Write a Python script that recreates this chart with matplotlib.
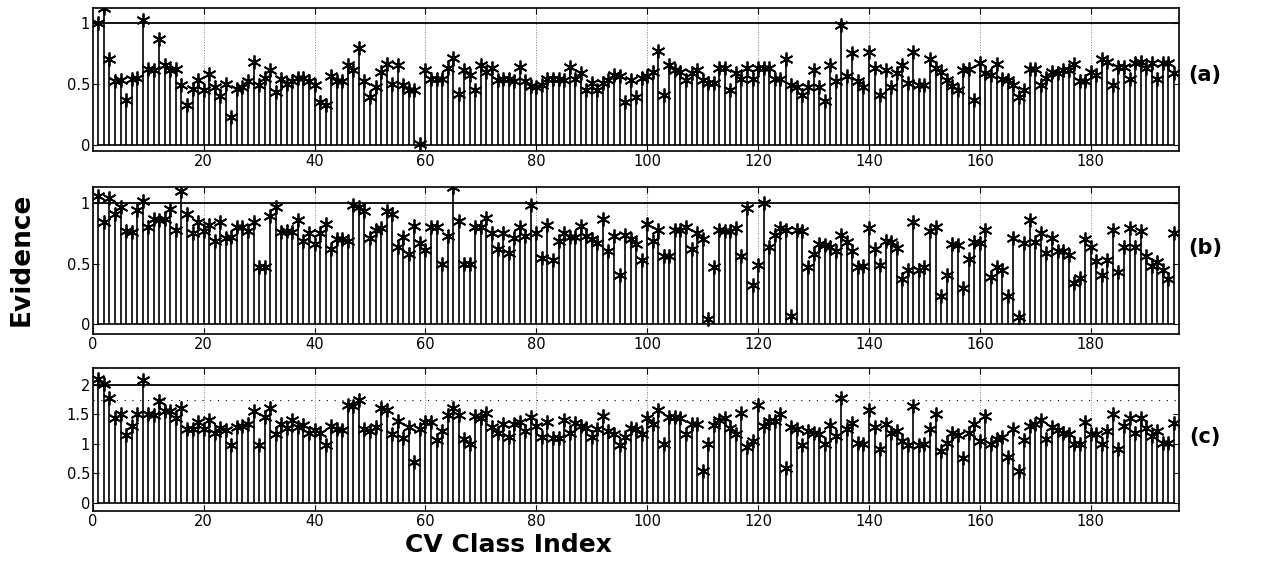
import numpy as np
import matplotlib.pyplot as plt

plt.rcParams['font.family'] = ['DejaVu Sans']

# evidence values per CV class, 195 classes per panel
ev_a = [1.0, 1.12, 0.70, 0.52, 0.53, 0.37, 0.54, 0.55, 1.02, 0.62,
        0.61, 0.87, 0.65, 0.61, 0.62, 0.49, 0.33, 0.46, 0.53, 0.45,
        0.58, 0.47, 0.40, 0.50, 0.23, 0.46, 0.47, 0.52, 0.68, 0.49,
        0.55, 0.61, 0.43, 0.54, 0.50, 0.52, 0.55, 0.55, 0.52, 0.49,
        0.35, 0.33, 0.56, 0.52, 0.52, 0.65, 0.61, 0.79,
        0.52, 0.39, 0.47, 0.60, 0.66, 0.50, 0.65, 0.49, 0.45, 0.45,
        0.01, 0.61, 0.54, 0.54, 0.54, 0.63, 0.71, 0.42, 0.61, 0.57,
        0.45, 0.65, 0.60, 0.63, 0.53, 0.54, 0.54, 0.52, 0.64, 0.52,
        0.48, 0.47, 0.49, 0.54, 0.54, 0.54, 0.53, 0.64, 0.54, 0.59,
        0.45, 0.51, 0.45, 0.51, 0.53, 0.57, 0.56, 0.35, 0.53, 0.39,
        0.55, 0.56,
        0.60, 0.77, 0.41, 0.65, 0.61, 0.60, 0.53, 0.59, 0.61, 0.53,
        0.51, 0.51, 0.63, 0.63, 0.45, 0.59, 0.54, 0.63, 0.54, 0.63,
        0.63, 0.63, 0.54, 0.54, 0.70, 0.49, 0.47, 0.41, 0.47, 0.61,
        0.47, 0.36, 0.65, 0.52, 0.98, 0.56, 0.75, 0.52, 0.47, 0.76,
        0.63, 0.41, 0.61, 0.47, 0.59, 0.65, 0.51, 0.76, 0.49, 0.49,
        0.70,
        0.63, 0.60, 0.53, 0.48, 0.45, 0.61, 0.62, 0.37, 0.67, 0.59,
        0.57, 0.66, 0.54, 0.53, 0.49, 0.39, 0.45, 0.62, 0.62, 0.49,
        0.55, 0.60, 0.59, 0.61, 0.61, 0.66, 0.52, 0.52, 0.60, 0.57,
        0.70, 0.68, 0.49, 0.64, 0.64, 0.54, 0.67, 0.68, 0.63, 0.67,
        0.54, 0.67, 0.67, 0.59]

ev_b = [1.06, 0.84, 1.04, 0.91, 0.97, 0.77, 0.76, 0.94, 1.02, 0.80,
        0.87, 0.86, 0.87, 0.95, 0.78, 1.10, 0.91, 0.75, 0.84, 0.77,
        0.82, 0.69, 0.84, 0.71, 0.72, 0.80, 0.80, 0.77, 0.84, 0.47,
        0.47, 0.89, 0.97, 0.76, 0.77, 0.76, 0.86, 0.69, 0.75, 0.66,
        0.75, 0.83, 0.62, 0.70, 0.70, 0.69, 0.98, 0.97,
        0.93, 0.71, 0.78, 0.79, 0.93, 0.91, 0.64, 0.72, 0.58, 0.81,
        0.67, 0.61, 0.80, 0.80, 0.50, 0.73, 1.13, 0.85, 0.50, 0.50,
        0.80, 0.80, 0.88, 0.75, 0.62, 0.75, 0.59, 0.71, 0.80, 0.73,
        0.98, 0.75, 0.55, 0.82, 0.53, 0.69, 0.75, 0.72, 0.72, 0.81,
        0.73, 0.70, 0.67, 0.87, 0.60, 0.73, 0.41, 0.74, 0.70, 0.66,
        0.53, 0.83,
        0.69, 0.78, 0.56, 0.56, 0.78, 0.78, 0.80, 0.62, 0.75, 0.70,
        0.04, 0.47, 0.78, 0.77, 0.77, 0.79, 0.56, 0.96, 0.32, 0.49,
        1.00, 0.64, 0.74, 0.79, 0.78, 0.07, 0.78, 0.77, 0.47, 0.58,
        0.66, 0.65, 0.64, 0.60, 0.74, 0.68, 0.60, 0.47, 0.48, 0.79,
        0.62, 0.49, 0.69, 0.68, 0.63, 0.37, 0.45, 0.84, 0.45, 0.47,
        0.77,
        0.80, 0.23, 0.41, 0.66, 0.65, 0.30, 0.54, 0.68, 0.67, 0.78,
        0.39, 0.47, 0.45, 0.23, 0.71, 0.06, 0.67, 0.86, 0.68, 0.75,
        0.59, 0.71, 0.60, 0.60, 0.57, 0.34, 0.38, 0.70, 0.64, 0.52,
        0.41, 0.53, 0.78, 0.43, 0.64, 0.79, 0.64, 0.77, 0.56, 0.48,
        0.51, 0.45, 0.37, 0.75]

ev_c = [2.10, 2.01, 1.77, 1.44, 1.51, 1.15, 1.30, 1.51, 2.08, 1.50,
        1.49, 1.73, 1.56, 1.56, 1.43, 1.61, 1.25, 1.25, 1.37, 1.25,
        1.41, 1.19, 1.26, 1.23, 0.98, 1.28, 1.30, 1.33, 1.56, 0.98,
        1.45, 1.61, 1.17, 1.33, 1.27, 1.41, 1.28, 1.32, 1.19, 1.23,
        1.19, 0.98, 1.30, 1.25, 1.23, 1.65, 1.64,
        1.75, 1.25, 1.22, 1.28, 1.61, 1.58, 1.16, 1.39, 1.09, 1.28,
        0.69, 1.25, 1.37, 1.37, 1.06, 1.22, 1.49, 1.60, 1.49, 1.08,
        0.99, 1.47, 1.43, 1.53, 1.28, 1.19, 1.33, 1.12, 1.34, 1.37,
        1.21, 1.45, 1.30, 1.12, 1.37, 1.09, 1.09, 1.41, 1.19, 1.36,
        1.30, 1.27, 1.12, 1.25, 1.47, 1.22, 1.16, 0.98, 1.12, 1.27,
        1.25, 1.16, 1.43,
        1.34, 1.58, 0.99, 1.45, 1.45, 1.43, 1.16, 1.34, 1.34, 0.54,
        0.99, 1.32, 1.41, 1.44, 1.27, 1.16, 1.53, 0.95, 1.04, 1.65,
        1.30, 1.39, 1.39, 1.50, 0.59, 1.28, 1.25, 0.98, 1.21, 1.19,
        1.17, 0.99, 1.32, 1.13, 1.77, 1.25, 1.36, 1.01, 0.99, 1.58,
        1.28, 0.91, 1.33, 1.19, 1.22, 1.04, 0.98, 1.64, 0.98, 0.99,
        1.25,
        1.51, 0.87, 1.01, 1.19, 1.15, 0.76, 1.19, 1.33, 1.04, 1.47,
        0.99, 1.08, 1.12, 0.78, 1.25, 0.54, 1.06, 1.30, 1.34, 1.41,
        1.08, 1.28, 1.23, 1.19, 1.16, 0.99, 0.99, 1.37, 1.16, 1.16,
        0.99, 1.22, 1.50, 0.91, 1.30, 1.44, 1.19, 1.44, 1.27, 1.13,
        1.22, 1.01, 1.02, 1.36]

panel_tags = ['(a)', '(b)', '(c)']
yticks_list = [[0, 0.5, 1], [0, 0.5, 1], [0, 0.5, 1, 1.5, 2]]
ylims = [(-0.05, 1.12), (-0.08, 1.13), (-0.14, 2.29)]
top_refs = [1.0, 1.0, 2.0]

fig = plt.figure(figsize=(12.71, 5.64), dpi=100)
boxes = [[0.073, 0.732, 0.855, 0.254],
         [0.073, 0.408, 0.855, 0.260],
         [0.073, 0.094, 0.855, 0.254]]
tag_y = [0.867, 0.56, 0.225]

for k, vals in enumerate([ev_a, ev_b, ev_c]):
    ax = fig.add_axes(boxes[k])
    x = np.arange(1, len(vals) + 1)
    ml, sl, bl = ax.stem(x, vals, linefmt='k-', basefmt='k-')
    # matlab style asterisk marker
    ml.set_marker((6, 2, 0))
    ml.set_color('k')
    ml.set_markersize(10)
    ml.set_markeredgewidth(1.3)
    sl.set_linewidth(1.2)
    bl.set_linewidth(1.2)
    ax.axhline(top_refs[k], color='k', lw=1.3)
    if k == 2:
        ax.axhline(1.75, color='k', lw=0.8, ls=(0, (1, 6)))
    ax.set_xlim(0, 196)
    ax.set_ylim(*ylims[k])
    ax.set_yticks(yticks_list[k])
    ax.set_yticklabels([f'{t:g}' for t in yticks_list[k]])
    if k == 0:
        ax.set_xticks(range(20, 181, 20))
    else:
        ax.set_xticks(range(0, 181, 20))
    ax.grid(axis='x', ls=':', color='k', lw=0.7, alpha=0.5)
    ax.tick_params(direction='in', top=True, right=True, length=4,
                   labelsize=10.5, pad=2)
    for s in ax.spines.values():
        s.set_linewidth(1.2)
    fig.text(0.948, tag_y[k], panel_tags[k], fontsize=15, fontweight='bold',
             ha='center', va='center')

fig.text(0.017, 0.54, 'Evidence', rotation=90, fontsize=19, fontweight='bold',
         ha='center', va='center')
fig.text(0.40, 0.034, 'CV Class Index', fontsize=18, fontweight='bold',
         ha='center', va='center')

fig.savefig('out.png', dpi=100)
